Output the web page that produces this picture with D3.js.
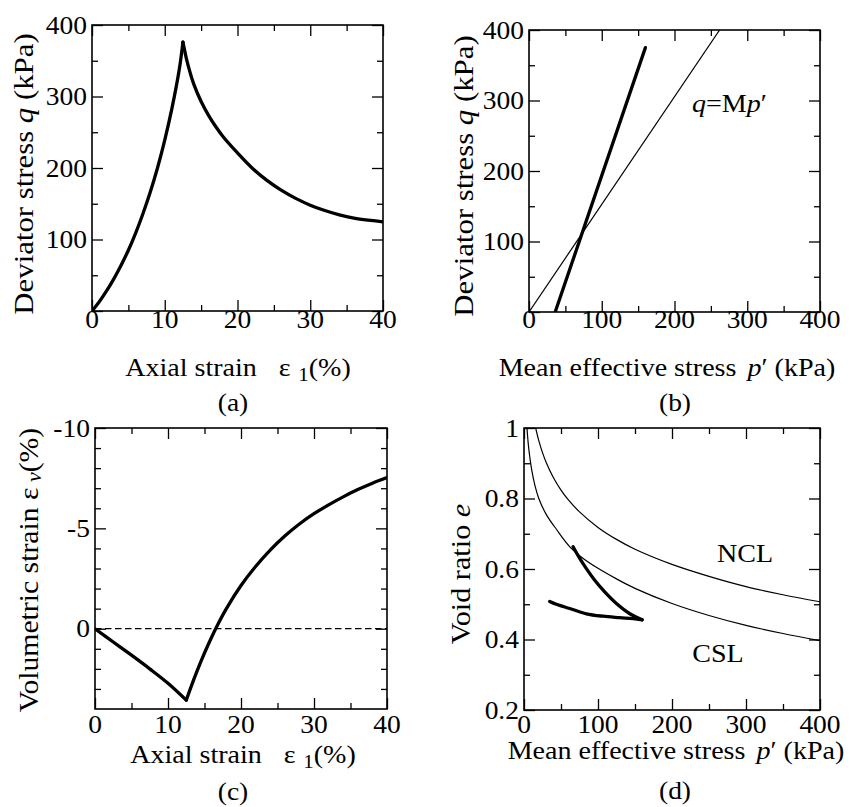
<!DOCTYPE html>
<html>
<head>
<meta charset="utf-8">
<style>
body { margin: 0; background: #fff; }
svg text { font-family: "Liberation Serif", "Times New Roman", serif; fill: #000; }
.frame { fill: none; stroke: #000; stroke-width: 1.6; }
.tick line { stroke: #000; stroke-width: 1.3; }
.thick { fill: none; stroke: #000; stroke-width: 3.3; stroke-linejoin: round; stroke-linecap: round; }
.thin { fill: none; stroke: #000; stroke-width: 1.2; }
.dash { fill: none; stroke: #000; stroke-width: 1.3; stroke-dasharray: 6.5 3.5; }
</style>
</head>
<body>
<div id="container"></div>
<script src="https://cdn.jsdelivr.net/npm/d3@7"></script>
<script>
const width = 858, height = 807;
const SX = 1.1;   // source glyphs are a bit wider than Liberation Serif

// ---- (a) deviator stress vs axial strain
const strainA = [0, 1, 2, 3, 4, 5, 6, 7, 8, 9, 10, 11, 12, 12.5,
                 13, 13.5, 14, 15, 16, 17, 18, 20, 22, 24, 26, 28, 30, 32, 34, 36, 38, 40];
const qA = [0, 13, 28, 45, 64, 85, 109, 136, 166, 200, 239, 284, 338, 376,
            352, 333, 317, 293, 274, 258, 244, 221, 200, 183, 169, 157.5, 148, 140.5, 134.5, 130, 127, 124.7];

// ---- (b) stress path and q = M p'
const pPathB = [36, 160];
const qPathB = [0, 375];
const pCSLB = [0, 262];
const qCSLB = [0, 400];

// ---- (c) volumetric strain vs axial strain
const strainC = [0, 2.5, 5, 7.5, 10, 12.5,
                 13.5, 14.5, 15.5, 16.6, 18, 20, 22, 24, 26, 28, 30, 32, 34, 36, 38, 40];
const volC = [0, 0.66, 1.32, 2.0, 2.72, 3.56,
              2.56, 1.64, 0.8, -0.05, -1.0, -2.15, -3.1, -3.92, -4.62, -5.22, -5.73, -6.17, -6.57, -6.93, -7.25, -7.53];
const zeroStrain = [0, 40];

// ---- (d) void ratio vs mean effective stress
const pNCL = [15.8, 20, 25, 30, 40, 50, 60, 75, 100, 125, 150, 200, 250, 300, 350, 400];
const eNCL = [1.0, 0.964, 0.93, 0.902, 0.858, 0.824, 0.796, 0.762, 0.718, 0.684, 0.656, 0.613, 0.579, 0.55, 0.527, 0.507];
const pCSL = [4, 6, 8, 10.4, 15, 20, 30, 44, 62, 80, 100, 125, 150, 200, 250, 300, 350, 400];
const eCSL = [1.0, 0.95, 0.915, 0.881, 0.835, 0.8, 0.755, 0.712, 0.663, 0.63, 0.602, 0.572, 0.545, 0.502, 0.468, 0.44, 0.417, 0.397];
const pPathD = [34.7, 43.7, 61.8, 84.3, 106.9, 129.4, 147.5, 159.6,
                143, 124.9, 109.1, 95.6, 84.3, 75.3, 66.3];
const ePathD = [0.508, 0.5, 0.488, 0.473, 0.466, 0.462, 0.459, 0.456,
                0.473, 0.502, 0.535, 0.568, 0.601, 0.63, 0.663];

// ---- ticks
const strainTicks = [0, 10, 20, 30, 40], strainMinor = [5, 15, 25, 35];
const stressTicks = [0, 100, 200, 300, 400], stressMinor = [50, 150, 250, 350];
const stressLabels = [100, 200, 300, 400];
const volTicks = [-10, -5, 0], volMinor = [-9, -8, -7, -6, -4, -3, -2, -1, 1, 2, 3];
const voidTicks = [0.2, 0.4, 0.6, 0.8, 1], voidMinor = [0.3, 0.5, 0.7, 0.9];

const zip = (xs, ys) => xs.map((v, i) => [v, ys[i]]);

const svg = d3.select('#container').append('svg')
  .attr('width', width).attr('height', height);

function wideText(x, y, size, anchor, rot) {
  return svg.append('text')
    .attr('transform', `translate(${x},${y})` + (rot ? ` rotate(${rot})` : '') + ` scale(${SX},1)`)
    .attr('text-anchor', anchor || 'middle')
    .attr('font-size', size);
}

function panel(o) {
  const [x0, x1, y0, y1] = o.box;
  const xs = d3.scaleLinear().domain(o.xDomain).range([x0, x1]);
  const ys = d3.scaleLinear().domain(o.yDomain).range([y1, y0]);

  // inward ticks on all four sides
  const tickSet = (gen, scale, vals, len, tr) => svg.append('g')
      .attr('transform', tr)
      .call(gen(scale).tickValues(vals).tickSize(-len).tickSizeOuter(0).tickFormat(''))
      .call(g => g.select('.domain').remove());
  [[o.xMajor, 11], [o.xMinor, 6]].forEach(([v, l]) => {
    tickSet(d3.axisBottom, xs, v, l, `translate(0,${y1})`);
    tickSet(d3.axisTop, xs, v, l, `translate(0,${y0})`);
  });
  [[o.yMajor, 11], [o.yMinor, 6]].forEach(([v, l]) => {
    tickSet(d3.axisLeft, ys, v, l, `translate(${x0},0)`);
    tickSet(d3.axisRight, ys, v, l, `translate(${x1},0)`);
  });

  const clipId = 'clip' + o.id;
  svg.append('clipPath').attr('id', clipId)
    .append('rect').attr('x', x0).attr('y', y0).attr('width', x1 - x0).attr('height', y1 - y0);
  const plot = svg.append('g').attr('clip-path', `url(#${clipId})`);
  const line = d3.line().x(d => xs(d[0])).y(d => ys(d[1])).curve(d3.curveCatmullRom.alpha(0.5));
  o.series.forEach(s => plot.append('path').attr('class', s.cls).attr('d', line(s.pts)));

  svg.append('rect').attr('class', 'frame')
    .attr('x', x0).attr('y', y0).attr('width', x1 - x0).attr('height', y1 - y0);

  o.xLabels.forEach(v => wideText(xs(v), o.xLabelY, 25).text(String(v)));
  o.yLabels.forEach(v => wideText(x0 - 5, ys(v) + 8.5, 25, 'end').text(String(v)));
  return { xs, ys };
}

// split a series at the cusp so the peak stays sharp
function split(xs, ys, at) {
  const pts = zip(xs, ys);
  return [pts.slice(0, at + 1), pts.slice(at)];
}

// (a)
const [aUp, aDown] = split(strainA, qA, qA.indexOf(d3.max(qA)));
panel({
  id: 'a', box: [92, 383, 25, 311], xDomain: [0, 40], yDomain: [0, 400],
  xMajor: strainTicks, xMinor: strainMinor, yMajor: stressTicks, yMinor: stressMinor,
  xLabels: strainTicks, yLabels: stressLabels, xLabelY: 328,
  series: [{ cls: 'thick', pts: aUp }, { cls: 'thick', pts: aDown }]
});

// (b)
panel({
  id: 'b', box: [529, 820, 30, 312], xDomain: [0, 400], yDomain: [0, 400],
  xMajor: stressTicks, xMinor: stressMinor, yMajor: stressTicks, yMinor: stressMinor,
  xLabels: stressTicks, yLabels: stressLabels, xLabelY: 328,
  series: [{ cls: 'thin', pts: zip(pCSLB, qCSLB) }, { cls: 'thick', pts: zip(pPathB, qPathB) }]
});

// (c)
const [cDown, cUp] = split(strainC, volC, volC.indexOf(d3.max(volC)));
panel({
  id: 'c', box: [95, 387, 428, 709], xDomain: [0, 40], yDomain: [4, -10],
  xMajor: strainTicks, xMinor: strainMinor, yMajor: volTicks, yMinor: volMinor,
  xLabels: strainTicks, yLabels: volTicks, xLabelY: 733,
  series: [{ cls: 'dash', pts: zeroStrain.map(v => [v, 0]) },
           { cls: 'thick', pts: cDown }, { cls: 'thick', pts: cUp }]
});

// (d)
const turn = pPathD.indexOf(d3.max(pPathD));
const [dLoad, dBack] = split(pPathD, ePathD, turn);
panel({
  id: 'd', box: [524, 820, 428, 710], xDomain: [0, 400], yDomain: [0.2, 1],
  xMajor: stressTicks, xMinor: stressMinor, yMajor: voidTicks, yMinor: voidMinor,
  xLabels: stressTicks, yLabels: voidTicks, xLabelY: 733,
  series: [{ cls: 'thin', pts: zip(pNCL, eNCL) }, { cls: 'thin', pts: zip(pCSL, eCSL) },
           { cls: 'thick', pts: dLoad }, { cls: 'thick', pts: dBack }]
});

// ---- axis titles
function strainTitle(cx, y) {
  const t = wideText(cx, y, 25.5);
  t.append('tspan').text('Axial strain');
  t.append('tspan').attr('dx', 20).text('ε');
  t.append('tspan').attr('dx', 7).attr('dy', 5).attr('font-size', 19).text('1');
  t.append('tspan').attr('dy', -5).text('(%)');
}
function meanTitle(cx, y) {
  const t = wideText(cx, y, 25.5);
  t.append('tspan').text('Mean effective stress');
  t.append('tspan').attr('dx', 10).attr('font-style', 'italic').text('p');
  t.append('tspan').text('′ (kPa)');
}
function devTitle(x, cy) {
  const t = wideText(x, cy, 28, 'middle', -90);
  t.append('tspan').text('Deviator stress ');
  t.append('tspan').attr('font-style', 'italic').text('q');
  t.append('tspan').text(' (kPa)');
}

strainTitle(238, 376);
meanTitle(667, 376);
strainTitle(243, 763);
meanTitle(676, 759);
devTitle(33, 174);
devTitle(473, 176);

const vt = wideText(38, 570, 27, 'middle', -90);
vt.append('tspan').text('Volumetric strain ε');
vt.append('tspan').attr('dx', 5).attr('dy', 3).attr('font-size', 20).attr('font-style', 'italic').text('v');
vt.append('tspan').attr('dy', -3).text('(%)');

const et = wideText(470, 574, 27.5, 'middle', -90);
et.append('tspan').text('Void ratio ');
et.append('tspan').attr('font-style', 'italic').text('e');

// ---- annotations
const mt = wideText(692, 112, 25.5, 'start');
mt.append('tspan').attr('font-style', 'italic').text('q');
mt.append('tspan').text('=M');
mt.append('tspan').attr('font-style', 'italic').text('p');
mt.append('tspan').text('′');

wideText(745, 562, 25.5).text('NCL');
wideText(718, 662, 25.5).text('CSL');

// ---- captions
wideText(233, 411, 25).text('(a)');
wideText(675, 411, 25).text('(b)');
wideText(233, 800, 25).text('(c)');
wideText(675, 799, 25).text('(d)');
</script>
</body>
</html>
